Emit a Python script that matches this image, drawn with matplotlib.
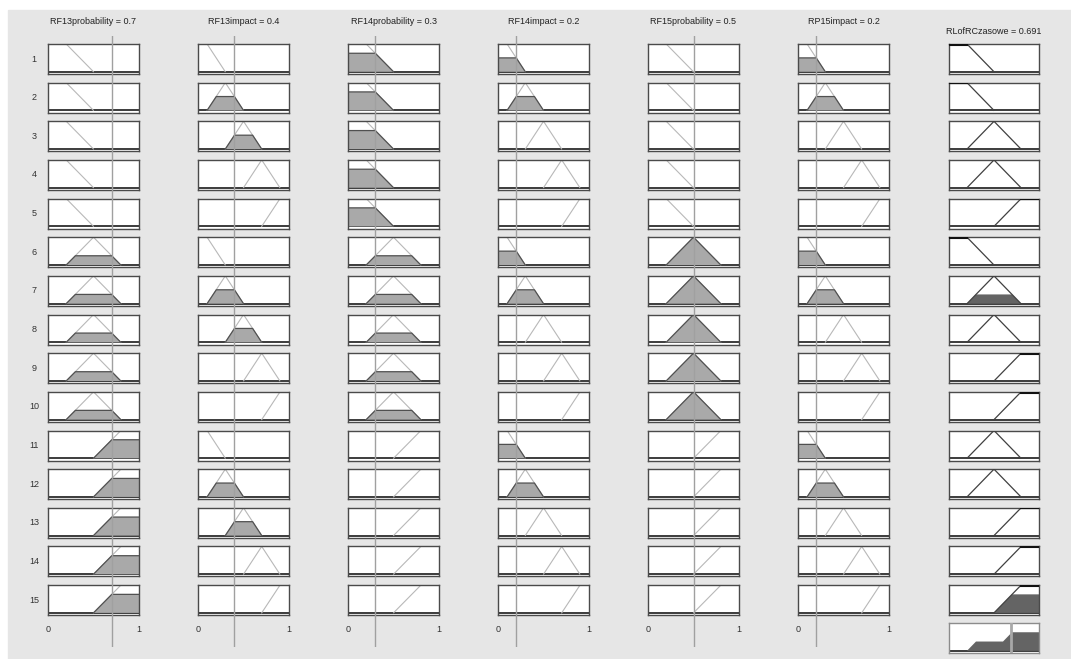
import numpy as np
import matplotlib.pyplot as plt
from matplotlib.patches import Rectangle

plt.rcParams['font.family'] = ['Liberation Sans Narrow', 'Liberation Sans', 'DejaVu Sans']

# inputs and the crisp values fed into the rule viewer
input_names = ['RF13probability', 'RF13impact', 'RF14probability',
               'RF14impact', 'RF15probability', 'RP15impact']
input_values = [0.7, 0.4, 0.3, 0.2, 0.5, 0.2]
output_name = 'RLofRCzasowe'
output_value = 0.691

# membership function parameters (trapezoids, triangles have b == c)
prob_mfs = [[0, 0, 0.2, 0.5], [0.2, 0.5, 0.5, 0.8], [0.5, 0.8, 1, 1]]
impact_mfs = [[0, 0, 0.1, 0.3], [0.1, 0.3, 0.3, 0.5], [0.3, 0.5, 0.5, 0.7],
              [0.5, 0.7, 0.7, 0.9], [0.7, 0.9, 1, 1]]
out_mfs = [[0, 0, 0.2, 0.5], [0.2, 0.5, 0.5, 0.8], [0.5, 0.8, 1, 1]]

# rule base: which MF each rule uses per input and for the output
prob_rule = [0, 0, 0, 0, 0, 1, 1, 1, 1, 1, 2, 2, 2, 2, 2]
impact_rule = [0, 1, 2, 3, 4, 0, 1, 2, 3, 4, 0, 1, 2, 3, 4]
out_rule = [0, 0, 1, 1, 2, 0, 1, 1, 2, 2, 1, 1, 2, 2, 2]
rule_strength = [0, 0, 0, 0, 0, 0, 0.333, 0, 0, 0, 0, 0, 0, 0, 0.667]


def trap(x, p):
    a, b, c, d = p
    y = np.ones_like(x)
    if b > a:
        y = np.where(x < b, (x - a) / (b - a), y)
    else:
        y = np.where(x < a, 0.0, y)
    if d > c:
        y = np.where(x > c, (d - x) / (d - c), y)
    else:
        y = np.where(x > d, 0.0, y)
    return np.clip(y, 0, 1)


W, H = 1071, 659
fig = plt.figure(figsize=(W / 100, H / 100), dpi=100, facecolor='white')
fig.patches.append(Rectangle((8 / W, 0), 1 - 8 / W, 1 - 10 / H,
                             transform=fig.transFigure, color='#e6e6e6', zorder=-10))


def px_axes(x, y, w, h, **kw):
    return fig.add_axes([x / W, 1 - (y + h) / H, w / W, h / H], **kw)


in_left = [48, 198, 348, 498, 648, 798]
out_left = 949
box_w = 91
box_h = 30
row_top = [44 + i * 38.65 for i in range(15)]
xs = np.linspace(0, 1, 801)
edge = '#4a4a4a'


def style_box(ax, edgecol=edge):
    ax.set_xlim(0, 1)
    ax.set_ylim(-0.08, 1.0)
    ax.set_xticks([])
    ax.set_yticks([])
    ax.set_facecolor('white')
    for s in ax.spines.values():
        s.set_color(edgecol)
        s.set_linewidth(1.0)
    ax.axhline(0, color='#3c3c3c', lw=1.4, zorder=1)


for c, name in enumerate(input_names):
    mfs = prob_mfs if c % 2 == 0 else impact_mfs
    rules = prob_rule if c % 2 == 0 else impact_rule
    val = input_values[c]
    for r in range(15):
        ax = px_axes(in_left[c], row_top[r], box_w, box_h)
        style_box(ax)
        p = mfs[rules[r]]
        mu = trap(xs, p)
        deg = float(trap(np.array([val]), p)[0])
        if deg > 0:
            clipped = np.minimum(mu, deg)
            ax.fill_between(xs, 0, clipped, where=clipped > 0,
                            facecolor='#a9a9a9', edgecolor='none', zorder=2)
            ax.plot(xs, np.where(clipped > 0, clipped, np.nan), color='#505050',
                    lw=0.9, zorder=3)
        ax.plot(xs, np.where(mu > 0, mu, np.nan), color='#b8b8b8', lw=0.8, zorder=2.5)
        if r == 14:
            ax.set_xticks([0, 1])
            ax.set_xticklabels(['0', '1'], fontsize=6.5, color='#333333')
            ax.tick_params(axis='x', length=0, pad=7)
    # crisp input value line spanning the whole column
    ov = px_axes(in_left[c], 36, box_w, 611)
    ov.set_xlim(0, 1)
    ov.set_ylim(0, 1)
    ov.axis('off')
    ov.patch.set_alpha(0)
    ov.set_zorder(5)
    ov.axvline(val, color='#a0a0a0', lw=1.0)
    fig.text((in_left[c] + box_w / 2) / W, 1 - 22 / H, f'{name} = {val:g}',
             ha='center', va='center', fontsize=6.5, color='#222222')

# output column with implied fuzzy sets
agg = np.zeros_like(xs)
for r in range(15):
    ax = px_axes(out_left, row_top[r], 90, box_h)
    style_box(ax)
    mu = trap(xs, out_mfs[out_rule[r]])
    s = rule_strength[r]
    if s > 0:
        clipped = np.minimum(mu, s)
        ax.fill_between(xs, 0, clipped, where=clipped > 0,
                        facecolor='#646464', edgecolor='none', zorder=2)
        agg = np.maximum(agg, clipped)
    ax.plot(xs, np.where(mu > 0, mu, np.nan), color='#404040', lw=0.9, zorder=3)
    top = np.where(mu >= 1, 0.975, np.nan)
    ax.plot(xs, top, color='#111111', lw=1.5, zorder=4)

fig.text((out_left + 45) / W, 1 - 31 / H, f'{output_name} = {output_value:g}',
         ha='center', va='center', fontsize=6.5, color='#222222')

# aggregated output
ax = px_axes(out_left, 623, 90, box_h)
style_box(ax, edgecol='#8c8c8c')
ax.fill_between(xs, 0, agg, where=agg > 0, facecolor='#646464',
                edgecolor='none', zorder=2)
ax.axvline(output_value, color='#a8a8a8', lw=2.0, zorder=4)

# rule numbers
for r in range(15):
    fig.text(34 / W, 1 - (row_top[r] + box_h / 2) / H, str(r + 1),
             ha='center', va='center', fontsize=6.5, color='#333333')

fig.savefig('out.png', dpi=100, facecolor=fig.get_facecolor())
